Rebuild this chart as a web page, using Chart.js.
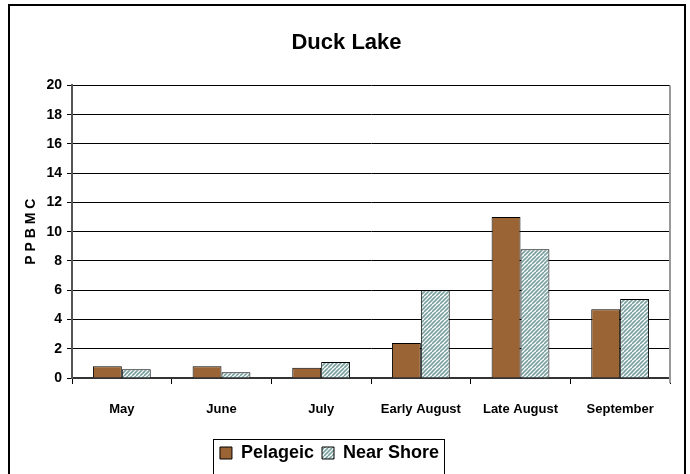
<!DOCTYPE html>
<html>
<head>
<meta charset="utf-8">
<script src="https://cdn.jsdelivr.net/npm/chart.js@4/dist/chart.umd.min.js"></script>
<style>
  body { margin: 0; background: #fff; }
  #wrap { width: 690px; height: 474px; }
</style>
</head>
<body>
<div id="wrap"><canvas id="myChart" width="690" height="474"></canvas></div>
<script>
var months = ['May', 'June', 'July', 'Early August', 'Late August', 'September'];
var pelageic = [0.8, 0.8, 0.7, 2.4, 11.0, 4.7];
var nearShore = [0.6, 0.4, 1.1, 6.0, 8.8, 5.4];
var yTicks = [0, 2, 4, 6, 8, 10, 12, 14, 16, 18, 20];

var FONT = "'Liberation Sans Narrow', 'Arial Narrow', 'Liberation Sans', Arial, sans-serif";
var LEGEND_SHIFT = 17;

// diagonal hatch fill for the near shore bars
function hatch(){
    var c = document.createElement('canvas');
    c.width = 8; c.height = 8;
    var g = c.getContext('2d');
    g.fillStyle = '#ffffff';
    g.fillRect(0, 0, 8, 8);
    g.strokeStyle = '#7a9f9f';
    g.lineWidth = 1.6;
    for (var i = -8; i <= 8; i += 4) {
        g.beginPath();
        g.moveTo(i, 8);
        g.lineTo(i + 8, 0);
        g.stroke();
    }
    return document.getElementById('myChart').getContext('2d').createPattern(c, 'repeat');
}

// outer frame, plot area right edge and the box round the legend
var frames = {
    id: 'frames',
    beforeDraw: function(chart){
        // legend sits a little left of the canvas centre
        var lg = chart.legend;
        if (lg._shifted) return;
        lg._shifted = true;
        lg.left -= LEGEND_SHIFT;
        lg.right -= LEGEND_SHIFT;
        lg.legendHitBoxes.forEach(function(b){ b.left -= LEGEND_SHIFT; });
    },
    afterDraw: function(chart){
        var ctx = chart.ctx;
        var a = chart.chartArea;
        ctx.save();
        ctx.strokeStyle = '#999';
        ctx.lineWidth = 2;
        ctx.beginPath();
        ctx.moveTo(a.right, a.top);
        ctx.lineTo(a.right, a.bottom + 5);
        ctx.stroke();

        var boxes = chart.legend.legendHitBoxes;
        if (boxes && boxes.length) {
            var l = boxes[0].left - 7;
            var r = boxes[boxes.length - 1].left + boxes[boxes.length - 1].width + 5;
            var t = boxes[0].top - 5;
            ctx.strokeStyle = '#000';
            ctx.lineWidth = 1;
            ctx.strokeRect(Math.round(l) + 0.5, Math.round(t) + 0.5, Math.round(r - l), 40);
        }

        ctx.strokeStyle = '#000';
        ctx.lineWidth = 2;
        ctx.beginPath();
        ctx.moveTo(685, 474);
        ctx.lineTo(685, 5);
        ctx.lineTo(9, 5);
        ctx.lineTo(9, 474);
        ctx.stroke();
        ctx.restore();
    }
};

var ctx = document.getElementById('myChart').getContext('2d');
var myChart = new Chart(ctx, {
    type: 'bar',
    data: {
        labels: months,
        datasets: [
            {
                label: 'Pelageic',
                data: pelageic,
                backgroundColor: '#9a6434',
                borderColor: '#000',
                borderWidth: 1,
                categoryPercentage: 0.58,
                barPercentage: 1.0
            },
            {
                label: 'Near Shore',
                data: nearShore,
                backgroundColor: hatch(),
                borderColor: '#000',
                borderWidth: 1,
                categoryPercentage: 0.58,
                barPercentage: 1.0
            }
        ]
    },
    options: {
        responsive: false,
        animation: false,
        layout: { padding: { left: 23, right: 20, top: 0, bottom: 2 } },
        plugins: {
            title: {
                display: true,
                text: 'Duck Lake',
                color: '#000',
                font: { family: FONT, size: 22, weight: 'bold' },
                padding: { top: 30, bottom: 29 }
            },
            legend: {
                position: 'bottom',
                labels: {
                    color: '#000',
                    font: { family: FONT, size: 18, weight: 'bold' },
                    boxWidth: 12,
                    boxHeight: 12,
                    padding: 8
                }
            },
            tooltip: { enabled: false }
        },
        scales: {
            x: {
                grid: {
                    offset: true,
                    drawOnChartArea: false,
                    color: '#000',
                    tickLength: 6
                },
                border: { color: '#333', width: 2 },
                ticks: {
                    color: '#000',
                    font: { family: FONT, size: 13, weight: 'bold' },
                    padding: 18,
                    maxRotation: 0
                },
                afterFit: function(scale){ scale.height = 58; }
            },
            y: {
                min: 0,
                max: 20,
                afterBuildTicks: function(scale){
                    scale.ticks = yTicks.map(function(v){ return { value: v }; });
                },
                grid: { color: '#000', lineWidth: 1, tickLength: 5 },
                border: { color: '#555', width: 2 },
                ticks: {
                    color: '#000',
                    font: { family: FONT, size: 14, weight: 'bold' },
                    padding: 5
                },
                title: {
                    display: true,
                    text: 'P P B M C',
                    color: '#000',
                    font: { family: FONT, size: 14, weight: 'bold' },
                    padding: { top: 0, bottom: 2 }
                },
                afterFit: function(scale){ scale.width = 49; }
            }
        }
    },
    plugins: [frames]
});
</script>
</body>
</html>
